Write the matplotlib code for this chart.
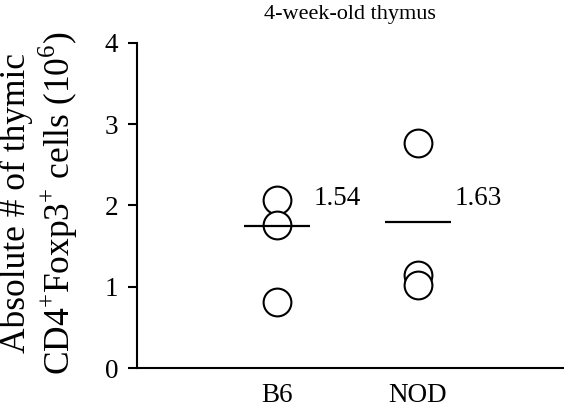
import matplotlib
matplotlib.use('Agg')
from matplotlib import pyplot as plt

plt.rcParams['font.family'] = ['Liberation Serif', 'DejaVu Serif']
plt.rcParams['mathtext.fontset'] = 'custom'
plt.rcParams['mathtext.rm'] = 'Liberation Serif'

# data
groups = ['B6', 'NOD']
b6_values = [2.07, 1.76, 0.81]
nod_values = [2.77, 1.14, 1.02]
mean_lines = [1.75, 1.80]
mean_labels = ['1.54', '1.63']

fig = plt.figure(figsize=(5.64, 4.17), dpi=100)
ax = fig.add_axes([137 / 564, 49 / 417, 427 / 564, 325 / 417])

xs = [1, 2]
for x, vals in zip(xs, [b6_values, nod_values]):
    ax.plot([x] * len(vals), vals, linestyle='none', marker='o', markersize=20,
            markerfacecolor='white', markeredgecolor='black', markeredgewidth=1.5, zorder=2)

for x, m, lab in zip(xs, mean_lines, mean_labels):
    ax.hlines(m, x - 0.235, x + 0.235, color='black', linewidth=1.6, zorder=3)
    ax.text(x + 0.26, 2.09, lab, fontsize=19.5, ha='left', va='center')

ax.set_xlim(0, 3.04)
ax.set_ylim(0, 4)
ax.set_yticks([0, 1, 2, 3, 4])
ax.set_xticks(xs)
ax.set_xticklabels(groups)

ax.spines['top'].set_visible(False)
ax.spines['right'].set_visible(False)
ax.spines['left'].set_linewidth(1.5)
ax.spines['bottom'].set_linewidth(1.5)
ax.tick_params(axis='y', length=6.5, width=1.5, pad=7, labelsize=19.5)
ax.tick_params(axis='x', length=0, pad=11, labelsize=19.5)

fig.text(350 / 564, 1 - 14 / 417, '4-week-old thymus', fontsize=16, ha='center', va='center')
fig.text(40 / 564, 1 - 203 / 417,
         'Absolute # of thymic\nCD4$^{+}$Foxp3$^{+}$ cells (10$^{6}$)',
         fontsize=25.5, rotation=90, ha='center', va='center', multialignment='center',
         linespacing=1.1)

fig.savefig('out.png', dpi=100)
